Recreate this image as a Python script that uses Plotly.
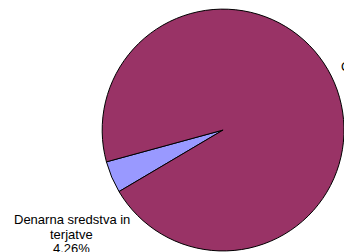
import plotly.graph_objects as go

labels = ["Denarna sredstva in terjatve", "Osnovna sredstva"]
values = [4.26, 95.74]
colors = ["#9999FF", "#993366"]

W, H = 344, 252

fig = go.Figure()
fig.add_trace(go.Pie(
    labels=labels,
    values=values,
    sort=False,
    direction="clockwise",
    rotation=-120.6,
    marker=dict(colors=colors, line=dict(color="#000000", width=1)),
    textinfo="none",
    hoverinfo="skip",
    showlegend=False,
    domain=dict(x=[0.297, 1.0], y=[0.004, 0.964]),
))

font = dict(family="Liberation Sans, Arial, sans-serif", size=13, color="#000000")

# label for small slice (three lines, tight spacing)
small_lines = ["Denarna sredstva in", "terjatve", f"{values[0]:.2f}%"]
small_y = [219.5, 234, 248.5]
for txt, yp in zip(small_lines, small_y):
    fig.add_annotation(text=txt, x=71.7 / W, y=1 - yp / H, xref="paper", yref="paper",
                       showarrow=False, xanchor="center", yanchor="middle", font=font)

# label for large slice (mostly clipped at right edge)
fig.add_annotation(text=f"{labels[1]}<br>{values[1]:.2f}%", x=338.5 / W, y=1 - 57 / H,
                   xref="paper", yref="paper", showarrow=False, xanchor="left",
                   yanchor="top", align="center", font=font)

fig.update_layout(
    width=W, height=H,
    margin=dict(l=0, r=0, t=0, b=0),
    paper_bgcolor="white",
    plot_bgcolor="white",
)

fig.write_html("out.html", config={"displayModeBar": False},
               post_script="document.body.style.margin='0';")
